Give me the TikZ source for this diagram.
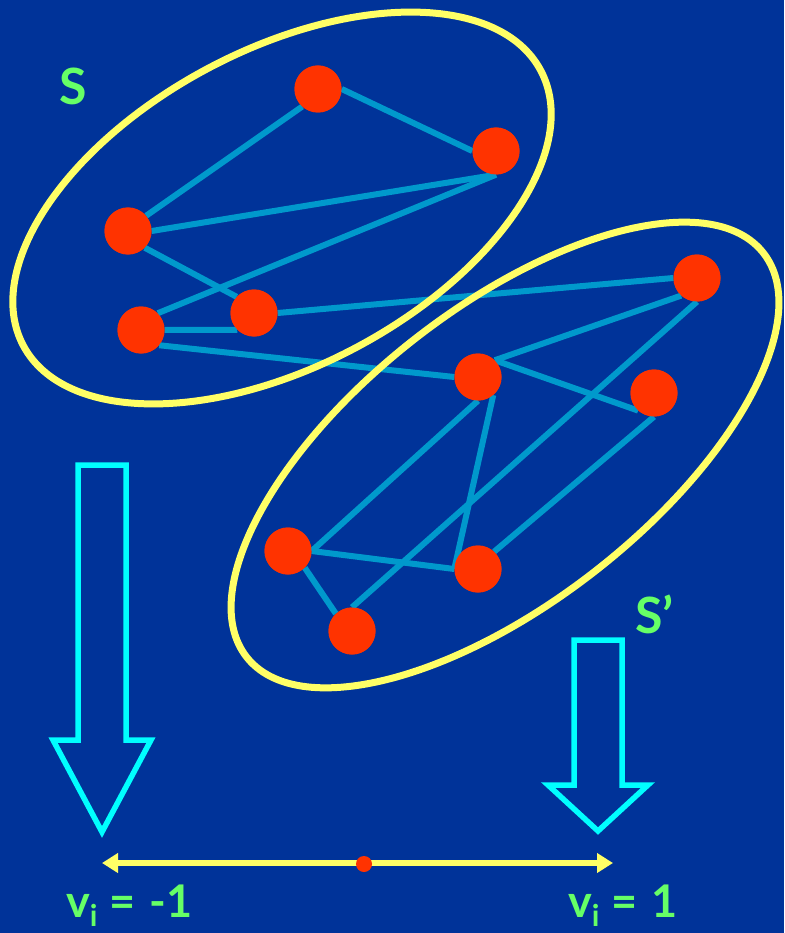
\documentclass[tikz,border=0pt]{standalone}
\usepackage{fontspec}
\setmainfont{Lato}
\usetikzlibrary{arrows.meta}
\definecolor{bg}{RGB}{0,51,153}
\definecolor{edgeblue}{RGB}{0,153,204}
\definecolor{nodered}{RGB}{255,51,0}
\definecolor{ringyellow}{RGB}{255,255,102}
\definecolor{arrowcyan}{RGB}{0,255,255}
\definecolor{labelgreen}{RGB}{102,255,102}
\tikzset{
  vtx/.style={circle, fill=nodered, inner sep=0pt, minimum size=47pt},
  edg/.style={draw=edgeblue, line width=6pt},
  ring/.style={draw=ringyellow, line width=7pt},
  hollow/.style={draw=arrowcyan, line width=5.5pt, line join=miter},
  lbl/.style={text=labelgreen, inner sep=0pt, font=\fontsize{50}{54}\selectfont\bfseries},
  vlbl/.style={text=labelgreen, inner sep=0pt, anchor=base west, font=\fontsize{45}{50}\selectfont\bfseries}
}
\begin{document}
\begin{tikzpicture}[x=1pt,y=-1pt]
\fill[bg] (0,0) rectangle (784,933);
\useasboundingbox (0,0) rectangle (784,933);
% vertices
\node[vtx] (A) at (318,89) {};
\node[vtx] (B) at (496,151) {};
\node[vtx] (C) at (128,231) {};
\node[vtx] (D) at (141,330) {};
\node[vtx] (E) at (254,313) {};
\node[vtx] (F) at (697,278) {};
\node[vtx] (G) at (478,377) {};
\node[vtx] (H) at (654,393) {};
\node[vtx] (I) at (288,551) {};
\node[vtx] (J) at (478,569) {};
\node[vtx] (K) at (352,631) {};
% edges
\draw[edg] (A.-132) -- (C.40);
\draw[edg] (A.0) -- (B.180);
\draw[edg] (C.0) -- (B.-90);
\draw[edg] (D.45) -- (B.-90);
\draw[edg] (C.-45) -- (E.137);
\draw[edg] (D.0) -- (E.-135);
\draw[edg] (E.0) -- (F.180);
\draw[edg] (D.-40) -- (G.180);
\draw[edg] (G.45) -- (F.-132);
\draw[edg] (G.45) -- (H.-132);
\draw[edg] (F.-90) -- (K.90);
\draw[edg] (G.-90) -- (I.0);
\draw[edg] (G.-50) -- (J.180);
\draw[edg] (I.0) -- (J.180);
\draw[edg] (I.-45) -- (K.133);
\draw[edg] (H.-90) -- (J.47);
% ellipses
\draw[ring, rotate around={28:(282,208)}] (282,208) ellipse [x radius=293, y radius=158];
\draw[ring, rotate around={38:(505,455)}] (505,455) ellipse [x radius=328, y radius=147];
% vertices on top of the edges
\foreach \n in {A,B,C,D,E,F,G,H,I,J,K}
  \fill[nodered] (\n.center) circle (23.5);
% labels
\node[lbl, anchor=base west] (SL) at (59,105) {S};
\node[lbl, anchor=base west] (SPL) at (635,633) {S'};
% hollow arrows
\draw[hollow] (78,465) -- (126,465) -- (126,740) -- (151,740) -- (102,832) -- (53,740) -- (78,740) -- cycle;
\draw[hollow] (574,640) -- (622,640) -- (622,785) -- (648,785) -- (598,831) -- (548,785) -- (574,785) -- cycle;
% axis
\coordinate (L) at (102,863);
\coordinate (R) at (613,863);
\draw[draw=ringyellow, line width=6pt, {Triangle[length=16pt,width=19pt]}-{Triangle[length=16pt,width=19pt]}] (L) -- (R);
\node[circle, fill=nodered, inner sep=0pt, minimum size=16pt] (M) at (364,864) {};
% value labels
\node[vlbl] (VL) at (66,917) {v\raisebox{-9pt}{\fontsize{30}{30}\selectfont i}\hspace{12pt}=\hspace{14pt}-1};
\node[vlbl] (VR) at (568,917) {v\raisebox{-9pt}{\fontsize{30}{30}\selectfont i}\hspace{12pt}=\hspace{14pt}1};
\end{tikzpicture}
\end{document}
